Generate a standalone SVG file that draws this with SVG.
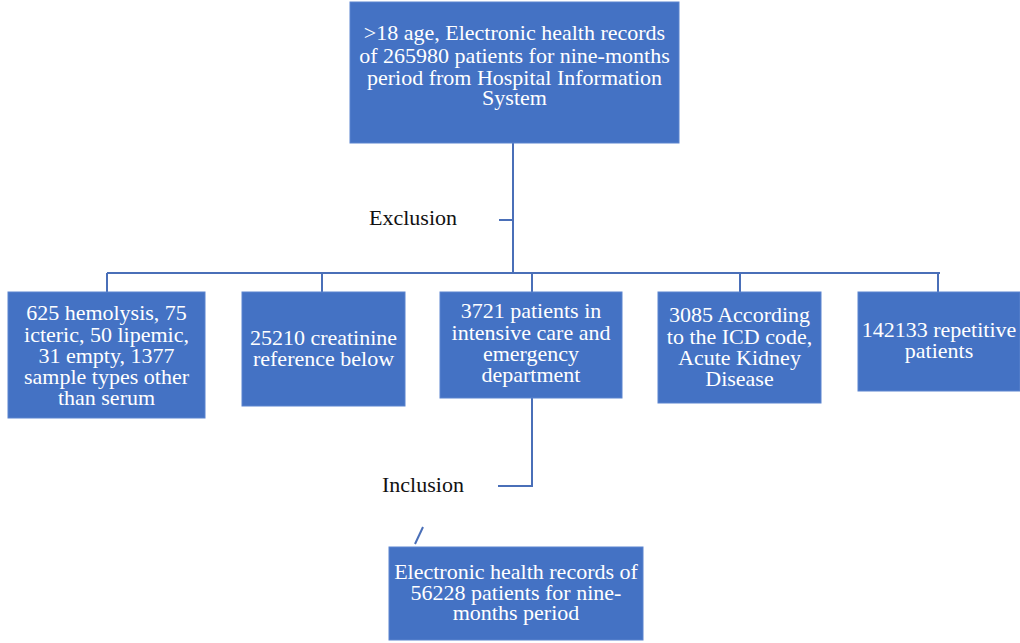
<svg xmlns="http://www.w3.org/2000/svg" width="1020" height="643" viewBox="0 0 1020 643">
<style>
.box{fill:#4472C4;stroke:#5b84cf;stroke-width:1}
text{font-family:'Liberation Serif','Times New Roman',Tinos,'DejaVu Serif',serif}
.t{font-size:22px;fill:#ffffff;text-anchor:middle}
.lbl{font-size:22px;fill:#111111}
.ln{stroke:#4a6fb8;stroke-width:2;fill:none}
</style>
<rect width="1020" height="643" fill="#ffffff"/>
<g id="connectors">
<path class="ln" d="M513 143 V273"/>
<path class="ln" d="M499 220 H513"/>
<path class="ln" d="M107 273 H940"/>
<path class="ln" d="M107 273 V292 M322 273 V292 M532 273 V292 M740 273 V292 M938 273 V292"/>
<path class="ln" d="M532 398 V486 H498"/>
<path class="ln" d="M423 527 L415 544"/>
</g>
<g id="label-exclusion"><text class="lbl" x="369" y="225">Exclusion</text></g>
<g id="label-inclusion"><text class="lbl" x="382" y="492">Inclusion</text></g>
<g id="n-top">
<rect class="box" x="350" y="2" width="329" height="141"/>
<text class="t" x="514.5" y="40">&gt;18 age, Electronic health records</text>
<text class="t" x="514.5" y="63">of 265980 patients for nine-months</text>
<text class="t" x="514.5" y="85">period from Hospital Information</text>
<text class="t" x="514.5" y="105">System</text>
</g>
<g id="n-hemolysis">
<rect class="box" x="8" y="292" width="197" height="126"/>
<text class="t" x="106.5" y="320">625 hemolysis, 75</text>
<text class="t" x="106.5" y="342">icteric, 50 lipemic,</text>
<text class="t" x="106.5" y="363">31 empty, 1377</text>
<text class="t" x="106.5" y="384">sample types other</text>
<text class="t" x="106.5" y="405">than serum</text>
</g>
<g id="n-creatinine">
<rect class="box" x="242" y="292" width="163" height="114"/>
<text class="t" x="323.5" y="345">25210 creatinine</text>
<text class="t" x="323.5" y="366">reference below</text>
</g>
<g id="n-icu">
<rect class="box" x="440" y="292" width="182" height="106"/>
<text class="t" x="531" y="318">3721 patients in</text>
<text class="t" x="531" y="340">intensive care and</text>
<text class="t" x="531" y="361">emergency</text>
<text class="t" x="531" y="382">department</text>
</g>
<g id="n-icd">
<rect class="box" x="658" y="292" width="163" height="111"/>
<text class="t" x="739.5" y="322">3085 According</text>
<text class="t" x="739.5" y="344">to the ICD code,</text>
<text class="t" x="739.5" y="365">Acute Kidney</text>
<text class="t" x="739.5" y="386">Disease</text>
</g>
<g id="n-repetitive">
<rect class="box" x="858" y="292" width="162" height="99"/>
<text class="t" x="939" y="337">142133 repetitive</text>
<text class="t" x="939" y="358">patients</text>
</g>
<g id="n-final">
<rect class="box" x="389" y="547" width="254" height="93"/>
<text class="t" x="516" y="579">Electronic health records of</text>
<text class="t" x="516" y="600">56228 patients for nine-</text>
<text class="t" x="516" y="620">months period</text>
</g>
</svg>
